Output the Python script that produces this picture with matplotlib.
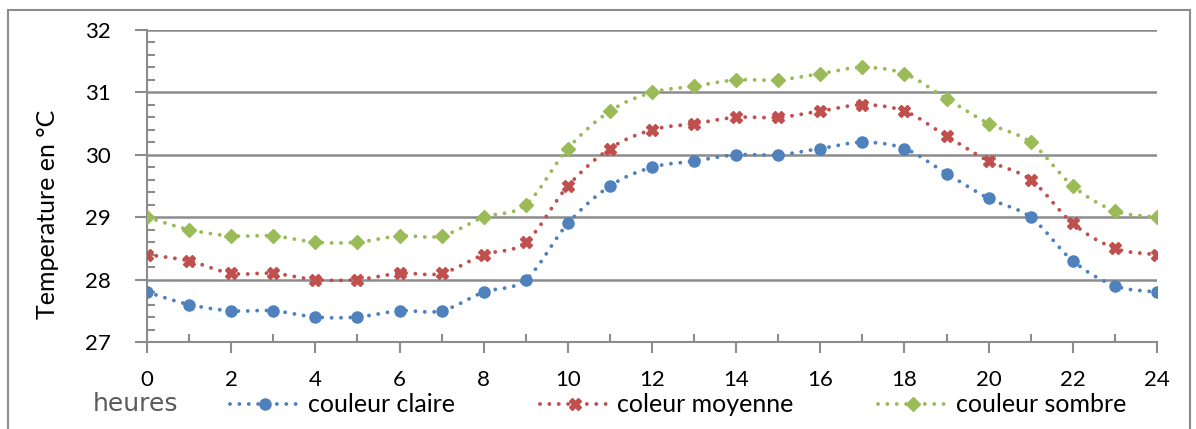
import numpy as np
import matplotlib
matplotlib.use("Agg")
import matplotlib.pyplot as plt
from matplotlib.path import Path
from matplotlib.patches import PathPatch, Rectangle
from matplotlib.lines import Line2D

hours = list(range(25))
claire = [27.8, 27.6, 27.5, 27.5, 27.4, 27.4, 27.5, 27.5, 27.8, 28.0, 28.9, 29.5, 29.8,
          29.9, 30.0, 30.0, 30.1, 30.2, 30.1, 29.7, 29.3, 29.0, 28.3, 27.9, 27.8]
moyenne = [28.4, 28.3, 28.1, 28.1, 28.0, 28.0, 28.1, 28.1, 28.4, 28.6, 29.5, 30.1, 30.4,
           30.5, 30.6, 30.6, 30.7, 30.8, 30.7, 30.3, 29.9, 29.6, 28.9, 28.5, 28.4]
sombre = [29.0, 28.8, 28.7, 28.7, 28.6, 28.6, 28.7, 28.7, 29.0, 29.2, 30.1, 30.7, 31.0,
          31.1, 31.2, 31.2, 31.3, 31.4, 31.3, 30.9, 30.5, 30.2, 29.5, 29.1, 29.0]
labels = ["couleur claire", "coleur moyenne", "couleur sombre"]
xticks = list(range(0, 25, 2))
yticks = [27, 28, 29, 30, 31, 32]

colors = ["#4F81BD", "#C0504D", "#9BBB59"]
markers = ["o", "X", "D"]
msizes = [8, 8, 7]
FONT = "Lato"
FS_TICK = 16
FS_BIG = 18
GRAY = "#8C8C8C"

plt.rcParams['font.family'] = [FONT, 'DejaVu Sans']

fig = plt.figure(figsize=(11.96, 4.29), dpi=100)
W, H = 1196, 429
ax = fig.add_axes([147 / W, 1 - 342 / H, (1157 - 147) / W, (342 - 30) / H])

# outer frame
fig.patches.append(Rectangle((8 / W, -0.1), (1190 - 8) / W, 1 - 10 / H + 0.1,
                             transform=fig.transFigure, fill=False,
                             edgecolor=GRAY, linewidth=1.5))


def smooth_path(xs, ys):
    xs = np.asarray(xs, float)
    ys = np.asarray(ys, float)
    n = len(xs)
    verts = [(xs[0], ys[0])]
    codes = [Path.MOVETO]
    for i in range(n - 1):
        i0 = max(i - 1, 0)
        i3 = min(i + 2, n - 1)
        c1 = (xs[i] + (xs[i + 1] - xs[i0]) / 6, ys[i] + (ys[i + 1] - ys[i0]) / 6)
        c2 = (xs[i + 1] - (xs[i3] - xs[i]) / 6, ys[i + 1] - (ys[i3] - ys[i]) / 6)
        verts += [c1, c2, (xs[i + 1], ys[i + 1])]
        codes += [Path.CURVE4] * 3
    return Path(verts, codes)


LW = 2.8
dash = (0, (0.01, 2.4))
for ys, c, m, ms, lab in zip([claire, moyenne, sombre], colors, markers, msizes, labels):
    patch = PathPatch(smooth_path(hours, ys), fill=False, edgecolor=c, linewidth=LW,
                      linestyle=dash, capstyle="round", zorder=3)
    ax.add_patch(patch)
    ax.plot(hours, ys, linestyle="none", marker=m, markersize=ms, color=c,
            markeredgecolor=c, zorder=4)

ax.set_xlim(0, 24)
ax.set_ylim(27, 32)
ax.set_xticks(xticks)
ax.set_xticks(range(25), minor=True)
ax.set_yticks(yticks)
ax.set_yticks(np.arange(27, 32.01, 0.2), minor=True)
ax.tick_params(axis="x", which="major", direction="out", length=8, width=1.5,
               color=GRAY, labelsize=FS_TICK, pad=12)
ax.tick_params(axis="x", which="minor", direction="in", length=6, width=1.5,
               color=GRAY)
ax.tick_params(axis="y", which="major", direction="out", length=9, width=1.5,
               color=GRAY, labelsize=FS_TICK, pad=17)
ax.tick_params(axis="y", which="minor", direction="in", length=6, width=1.5,
               color=GRAY)
for s in ["top", "right"]:
    ax.spines[s].set_visible(False)
for s in ["left", "bottom"]:
    ax.spines[s].set_color(GRAY)
    ax.spines[s].set_linewidth(1.5)
ax.grid(axis="y", which="major", color=GRAY, linewidth=1.8)
ax.set_axisbelow(True)

ax.set_ylabel("Temperature en °C", fontsize=FS_BIG)
ax.yaxis.set_label_coords(59 / W, 0.5, transform=fig.transFigure)

fig.text(93 / W, 1 - 404 / H, "heures", fontsize=18, color="#5A5A5A", va="center",
         ha="left", family="DejaVu Sans")

handles = [Line2D([0], [0], color=c, linewidth=LW, linestyle=dash, dash_capstyle="round",
                  marker=m, markersize=ms, markeredgecolor=c)
           for c, m, ms in zip(colors, markers, msizes)]
fig.legend(handles, labels, loc="center left", bbox_to_anchor=(230 / W, 1 - 405 / H),
           ncol=3, frameon=False, fontsize=FS_BIG, handlelength=2.8, handletextpad=0.3,
           columnspacing=3.4, borderpad=0, borderaxespad=0)

fig.savefig("out.png", dpi=100)
